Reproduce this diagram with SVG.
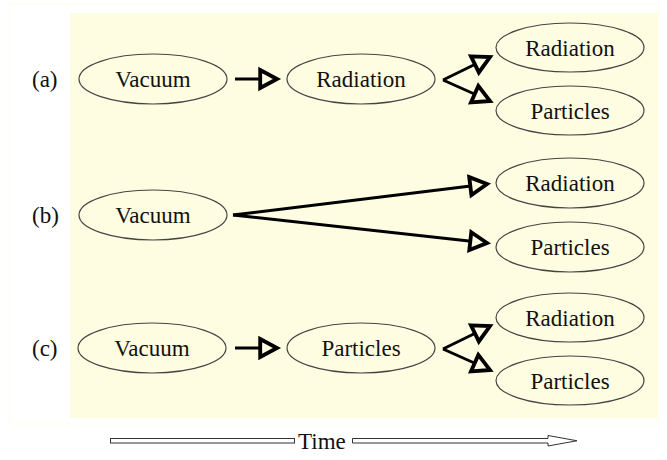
<svg xmlns="http://www.w3.org/2000/svg" width="667" height="460" viewBox="0 0 667 460">
<style>
.bg{fill:#FFFDE1}
.node ellipse{fill:#FFFDE1;stroke:#444;stroke-width:1.2}
.node text{text-anchor:middle}
.edge{stroke:#000;stroke-width:3;fill:none}
.timebar{fill:#fff;stroke:#333;stroke-width:1}
</style>
<defs>
<marker id="ah" markerUnits="userSpaceOnUse" markerWidth="24" markerHeight="24" refX="14" refY="0" viewBox="-3 -10 20 20" orient="auto" overflow="visible">
<path d="M0,-7.5 L14,0 L0,7.5 Z" fill="#FFFDE1" stroke="#000" stroke-width="3.2" stroke-linejoin="miter"/>
</marker>
</defs>
<rect x="10" y="4" width="647" height="420" fill="none" stroke="#FFFEEC" stroke-width="1"/>
<rect class="bg" x="70" y="13" width="588" height="405"/>

<g font-family="Liberation Serif, serif" font-size="23" fill="#111">
<text x="32" y="87">(a)</text>
<text x="32" y="223">(b)</text>
<text x="32" y="356">(c)</text>
</g>

<g id="connectors">
<line class="edge" x1="235" y1="79" x2="277" y2="79" marker-end="url(#ah)"/>
<line class="edge" x1="443" y1="80" x2="490" y2="57" marker-end="url(#ah)"/>
<line class="edge" x1="443" y1="80" x2="490" y2="101" marker-end="url(#ah)"/>
<line class="edge" x1="233" y1="215" x2="487" y2="184" marker-end="url(#ah)"/>
<line class="edge" x1="233" y1="215" x2="487" y2="243" marker-end="url(#ah)"/>
<line class="edge" x1="235" y1="348" x2="277" y2="348" marker-end="url(#ah)"/>
<line class="edge" x1="443" y1="349" x2="490" y2="326" marker-end="url(#ah)"/>
<line class="edge" x1="443" y1="349" x2="490" y2="370" marker-end="url(#ah)"/>
</g>

<g font-family="Liberation Serif, serif" font-size="23" fill="#111">
<g id="a-vacuum" class="node"><ellipse cx="153" cy="79" rx="74" ry="25"/><text x="153" y="87">Vacuum</text></g>
<g id="a-radiation" class="node"><ellipse cx="361" cy="79" rx="74" ry="25"/><text x="361" y="87">Radiation</text></g>
<g id="a-out-radiation" class="node"><ellipse cx="570" cy="47.5" rx="74" ry="24.5"/><text x="570" y="55.5">Radiation</text></g>
<g id="a-out-particles" class="node"><ellipse cx="570" cy="110.5" rx="74" ry="24.5"/><text x="570" y="118.5">Particles</text></g>

<g id="b-vacuum" class="node"><ellipse cx="153" cy="215" rx="74" ry="25"/><text x="153" y="223">Vacuum</text></g>
<g id="b-out-radiation" class="node"><ellipse cx="570" cy="183" rx="74" ry="25"/><text x="570" y="191">Radiation</text></g>
<g id="b-out-particles" class="node"><ellipse cx="570" cy="247" rx="74" ry="25"/><text x="570" y="255">Particles</text></g>

<g id="c-vacuum" class="node"><ellipse cx="152" cy="348" rx="74" ry="25"/><text x="152" y="356">Vacuum</text></g>
<g id="c-particles" class="node"><ellipse cx="361" cy="348" rx="74" ry="25"/><text x="361" y="356">Particles</text></g>
<g id="c-out-radiation" class="node"><ellipse cx="570" cy="317.5" rx="74" ry="24.5"/><text x="570" y="325.5">Radiation</text></g>
<g id="c-out-particles" class="node"><ellipse cx="570" cy="380.5" rx="74" ry="24.5"/><text x="570" y="388.5">Particles</text></g>
</g>

<g id="time-axis">
<rect class="timebar" x="110.5" y="438.5" width="184" height="4.5"/>
<path class="timebar" d="M352.5,438.5 H548 V435.5 L577,440.75 L548,446 V443 H352.5 Z"/>
<text x="298" y="449" font-family="Liberation Serif, serif" font-size="23" fill="#111">Time</text>
</g>
</svg>
